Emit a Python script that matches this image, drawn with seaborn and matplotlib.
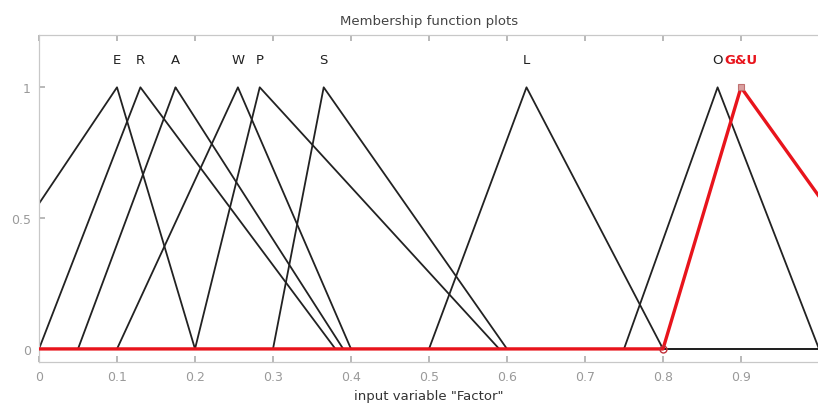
import numpy as np
import pandas as pd
import matplotlib
matplotlib.use("Agg")
import matplotlib.pyplot as plt
import seaborn as sns

# membership functions of input "Factor" (trimf: left foot, peak, right foot)
mf_names = ["E", "R", "A", "W", "P", "S", "L", "O", "G&U"]
mf_left = [-0.125, 0.0, 0.05, 0.10, 0.20, 0.30, 0.50, 0.75, 0.80]
mf_peak = [0.10, 0.13, 0.175, 0.255, 0.283, 0.365, 0.625, 0.87, 0.90]
mf_right = [0.20, 0.38, 0.39, 0.40, 0.59, 0.60, 0.80, 1.00, 1.14]
selected = "G&U"

x_ticks = [0, 0.1, 0.2, 0.3, 0.4, 0.5, 0.6, 0.7, 0.8, 0.9]
y_ticks = [0, 0.5, 1]


def trimf(x, a, b, c):
    return np.maximum(np.minimum((x - a) / (b - a), (c - x) / (c - b)), 0)


rows = []
for name, a, b, c in zip(mf_names, mf_left, mf_peak, mf_right):
    xs = np.unique(np.concatenate([np.linspace(0, 1, 201), [a, b, c]]))
    xs = xs[(xs >= 0) & (xs <= 1)]
    for xv in xs:
        rows.append({"mf": name, "x": xv, "mu": trimf(xv, a, b, c)})
df = pd.DataFrame(rows)

sns.set_theme(style="white")
plt.rcParams["font.family"] = ["DejaVu Sans"]

fig = plt.figure(figsize=(8.18, 4.10), dpi=100)
ax = fig.add_axes([39 / 818, 47 / 410, 780 / 818, 327 / 410])

for name in mf_names:
    if name == selected:
        continue
    sns.lineplot(data=df[df.mf == name], x="x", y="mu", color="#222222",
                 linewidth=1.3, ax=ax, estimator=None, sort=True)

sel = df[df.mf == selected]
sns.lineplot(data=sel, x="x", y="mu", color="#e8141c", linewidth=2.4,
             ax=ax, estimator=None, sort=True, zorder=5)
i = mf_names.index(selected)
ax.plot([mf_left[i]], [0], marker="o", ms=5, mfc="none", mec="#c0303a",
        mew=1, zorder=6)
ax.plot([mf_peak[i]], [1], marker="s", ms=5, mfc="#d9a0a0", mec="#c07070",
        mew=0.8, zorder=6)

for name, b in zip(mf_names, mf_peak):
    col = "#e8141c" if name == selected else "#222222"
    ax.text(b, 1.105, name, ha="center", va="center", fontsize=9.5,
            color=col, fontweight="bold" if name == selected else "normal")

ax.set_xlim(0, 1)
ax.set_ylim(-0.05, 1.2)
ax.set_xticks(x_ticks)
ax.set_xticklabels([f"{t:g}" for t in x_ticks])
ax.set_yticks(y_ticks)
ax.set_yticklabels([f"{t:g}" for t in y_ticks])
ax.tick_params(axis="both", direction="in", length=4, color="#b0b0b0",
               labelcolor="#9a9a9a", labelsize=9, top=True, bottom=True,
               left=True, pad=6)
for s in ax.spines.values():
    s.set_color("#c8c8c8")
    s.set_linewidth(0.9)

ax.set_xlabel('input variable "Factor"', fontsize=9.5, color="#333333",
              labelpad=4)
ax.set_ylabel("")
ax.set_title("Membership function plots", fontsize=9.5, color="#444444",
             pad=8)

fig.savefig("out.png", dpi=100)
